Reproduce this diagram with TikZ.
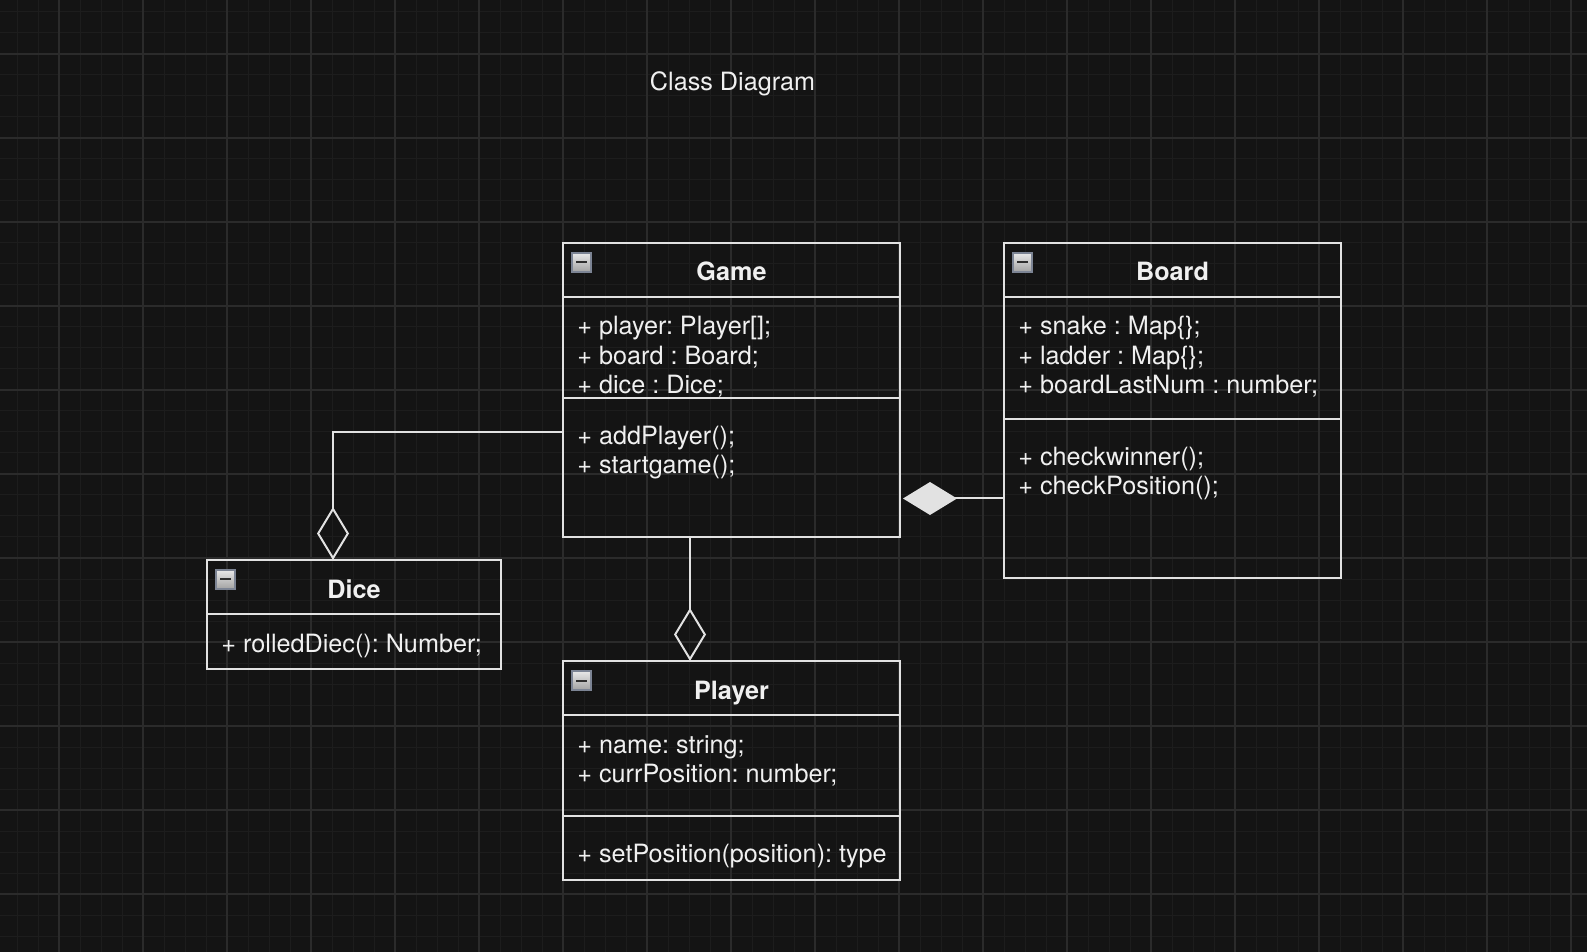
\documentclass[tikz,border=0pt]{standalone}
\usepackage{fontspec}
\setmainfont{TeX Gyre Heros}
\usetikzlibrary{arrows.meta, positioning, calc}
\definecolor{cdBg}{HTML}{141414}
\definecolor{cdGridMinor}{HTML}{1D1D1D}
\definecolor{cdGridMajor}{HTML}{2B2B2B}
\definecolor{cdLine}{HTML}{E2E2E2}
\definecolor{cdText}{HTML}{F0F0F0}
\definecolor{cdIconTop}{HTML}{E8E8E8}
\definecolor{cdIconBot}{HTML}{A2A2A2}
\definecolor{cdIconRim}{HTML}{7C8494}
\definecolor{cdIconBar}{HTML}{2E2E2E}
\tikzset{
  compart/.style={draw=cdLine, line width=1pt, outer sep=0pt, inner sep=0pt, anchor=north},
  classhead/.style={compart, minimum height=27pt, font=\fontsize{12.6}{14.7}\selectfont\bfseries,
    text=cdText, text height=11pt, text depth=0pt},
  member/.style={anchor=base west, inner sep=0pt, align=left,
    font=\fontsize{12.6}{14.7}\selectfont\frenchspacing, text=cdText},
  heading/.style={anchor=base, inner sep=0pt, font=\fontsize{12.6}{14.7}\selectfont, text=cdText},
  collapse/.style={draw=cdIconRim, line width=0.6pt, top color=cdIconTop, bottom color=cdIconBot,
    minimum size=9.5pt, inner sep=0pt},
  gridminor/.style={cdGridMinor, line width=0.5pt},
  gridmajor/.style={cdGridMajor, line width=0.6pt},
  aggregation/.style={draw=cdLine, line width=1pt, -{Diamond[open, length=26.5pt, width=16pt]}},
  composition/.style={draw=cdLine, line width=1pt, -{Diamond[length=27pt, width=16.5pt]}, shorten >=1.5pt}
}
\begin{document}
\begin{tikzpicture}[x=0.5pt, y=-0.5pt]
  \useasboundingbox (0,0) rectangle (1587,952);
  \fill[cdBg] (0,0) rectangle (1587,952);
  % background grid
  \foreach \gx in {17,38,...,1587} \draw[gridminor] (\gx,0) -- (\gx,952);
  \foreach \gy in {12,33,...,952} \draw[gridminor] (0,\gy) -- (1587,\gy);
  \foreach \gx in {59,143,...,1587} \draw[gridmajor] (\gx,0) -- (\gx,952);
  \foreach \gy in {54,138,...,952} \draw[gridmajor] (0,\gy) -- (1587,\gy);

  \node[heading] (title) at (732.5,90.5) {Class Diagram};

  % Game (member nodes sit on their last line)
  \node[classhead, minimum width=168.5pt, anchor=north west] (gameHead) at (563,243) {Game};
  \node[compart, minimum width=168.5pt, minimum height=50.5pt, below=0pt of gameHead] (gameAttr) {};
  \node[compart, minimum width=168.5pt, minimum height=69.5pt, below=0pt of gameAttr] (gameOps) {};
  \node[collapse] (gameIcon) at ([xshift=9.25pt, yshift=-9.75pt]gameHead.north west) {\color{cdIconBar}\rule{5.5pt}{1pt}};
  \begin{scope}
    \clip (gameAttr.north west) rectangle (gameAttr.south east);
    \node[member] (gameAttrText) at ([xshift=7pt, yshift=-48.4pt]gameAttr.north west)
      {+ player: Player[];\\+ board : Board;\\+ dice : Dice;};
  \end{scope}
  \node[member] (gameOpsText) at ([xshift=7pt, yshift=-37.7pt]gameOps.north west)
    {+ addPlayer();\\+ startgame();};

  % Board
  \node[classhead, minimum width=168.5pt, anchor=north west] (boardHead) at (1004,243) {Board};
  \node[compart, minimum width=168.5pt, minimum height=61pt, below=0pt of boardHead] (boardAttr) {};
  \node[compart, minimum width=168.5pt, minimum height=79.5pt, below=0pt of boardAttr] (boardOps) {};
  \node[collapse] (boardIcon) at ([xshift=9.25pt, yshift=-9.75pt]boardHead.north west) {\color{cdIconBar}\rule{5.5pt}{1pt}};
  \node[member] (boardAttrText) at ([xshift=7pt, yshift=-48.4pt]boardAttr.north west)
    {+ snake : Map\{\};\\+ ladder : Map\{\};\\+ boardLastNum : number;};
  \node[member] (boardOpsText) at ([xshift=7pt, yshift=-37.7pt]boardOps.north west)
    {+ checkwinner();\\+ checkPosition();};

  % Dice
  \node[classhead, minimum width=147pt, anchor=north west] (diceHead) at (207,560) {Dice};
  \node[compart, minimum width=147pt, minimum height=27.5pt, below=0pt of diceHead] (diceAttr) {};
  \node[collapse] (diceIcon) at ([xshift=9.25pt, yshift=-9.75pt]diceHead.north west) {\color{cdIconBar}\rule{5.5pt}{1pt}};
  \node[member] (diceAttrText) at ([xshift=7pt, yshift=-19pt]diceAttr.north west)
    {+ rolledDiec(): Number;};

  % Player
  \node[classhead, minimum width=168.5pt, anchor=north west] (playerHead) at (563,661) {Player};
  \node[compart, minimum width=168.5pt, minimum height=50.5pt, below=0pt of playerHead] (playerAttr) {};
  \node[compart, minimum width=168.5pt, minimum height=32pt, below=0pt of playerAttr] (playerOps) {};
  \node[collapse] (playerIcon) at ([xshift=9.25pt, yshift=-9.75pt]playerHead.north west) {\color{cdIconBar}\rule{5.5pt}{1pt}};
  \node[member] (playerAttrText) at ([xshift=7pt, yshift=-33.7pt]playerAttr.north west)
    {+ name: string;\\+ currPosition: number;};
  \node[member] (playerOpsText) at ([xshift=7pt, yshift=-23pt]playerOps.north west)
    {+ setPosition(position): type};

  % relations
  \coordinate (diceHook) at ([yshift=-17pt]gameOps.north west);
  \draw[aggregation] (diceHook) -| ([xshift=-10.5pt]diceHead.north);
  \draw[aggregation] ([xshift=-20.75pt]gameOps.south) -- ([xshift=-20.75pt]playerHead.north);
  \draw[composition] (boardOps.west) -- (boardOps.west -| gameOps.east);
\end{tikzpicture}
\end{document}
